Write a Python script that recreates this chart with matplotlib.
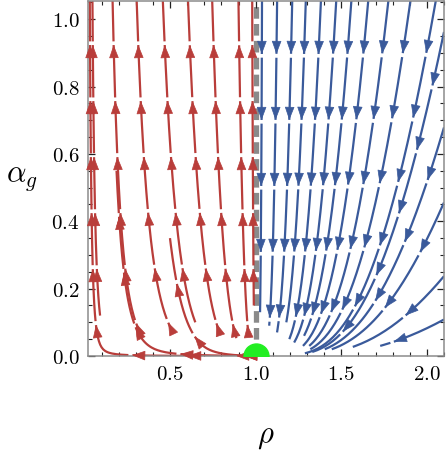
import numpy as np
import matplotlib
matplotlib.use("Agg")
import matplotlib.pyplot as plt
from matplotlib.ticker import MultipleLocator, FuncFormatter

plt.rcParams["mathtext.fontset"] = "cm"

# shape parameters of the flow
k_red = 0.33        # logit(rho) drift per ln(alpha_g), rho < 1
k_red_low = 0.4     # extra bending close to alpha_g = 0
alpha_bend = 0.01
k_blue = 0.17       # same for rho > 1

# streamlines: seed (rho, alpha_g) and the alpha_g range each one spans
red_rho = [0.047, 0.165, 0.306, 0.459, 0.606, 0.747, 0.90, 0.98, 0.95, 0.65, 0.90]
red_alpha = [1.04, 1.04, 1.04, 1.04, 1.04, 1.04, 1.04, 1.04, 1e-5, 0.003, 0.002]
red_lo = [0.12, 0.07, 0.068, 0.10, 0.08, 0.053, 0.057, 0.15, 0.0, 0.0, 0.0]
red_hi = [1.06, 1.06, 1.06, 1.06, 1.06, 1.06, 1.06, 1.06, 1.06, 0.55, 0.35]

blue_rho = [1.037, 1.125, 1.213, 1.292, 1.38, 1.469, 1.557, 1.655, 1.772, 1.9, 2.047,
            2.095, 2.095, 2.095, 2.095, 2.095]
blue_alpha = [1.04] * 11 + [0.95, 0.67, 0.45, 0.234, 0.107]
blue_lo = [0.13, 0.09, 0.07, 0.10, 0.05, 0.04, 0.06, 0.03, 0.03, 0.02, 0.008,
           0.012, 0.02, 0.02, 0.027, 0.03]

fixed_point = (1.0, 0.0)

red = "#b93d3a"
blue = "#3a5a9b"
xmin, xmax = 0.02, 2.1
ymin, ymax = 0.0, 1.053


def red_field(a_lo, a_hi):
    rho = np.linspace(0.0, 0.995, 240)
    alpha = np.linspace(a_lo, a_hi, 300)
    R, A = np.meshgrid(rho, alpha)
    k = k_red + k_red_low * np.exp(-A / alpha_bend)
    return rho, alpha, -R * (1 - R) * k, A


def blue_field(a_lo, a_hi):
    rho = np.linspace(1.001, 2.1, 240)
    alpha = np.linspace(a_lo, a_hi, 300)
    R, A = np.meshgrid(rho, alpha)
    return rho, alpha, -k_blue * R * (R - 1), -A


# streamlines are integrated by streamplot on a scratch axes, one seed at a time
scratch = plt.figure().add_subplot()


def trace(field, rho0, alpha0, lo, hi):
    x, y, u, v = field(lo, hi)
    sp = scratch.streamplot(x, y, u, v, start_points=[[rho0, alpha0]],
                            integration_direction="both",
                            broken_streamlines=False, density=3, maxlength=10)
    segs = sp.lines.get_segments()
    if not len(segs):
        return None
    return np.vstack([segs[0][:1]] + [s[1:] for s in segs])


fig = plt.figure(figsize=(4.46, 4.57), dpi=100)
ax = fig.add_axes([0.197, 0.221, 0.7985, 0.776])
ax.set_xlim(xmin, xmax)
ax.set_ylim(ymin, ymax)


def draw(path, color, spacing, first, gap=3.5):
    # arrows are counted back from the upper end of each line
    disp = ax.transData.transform(path)
    s = np.concatenate([[0], np.cumsum(np.hypot(*np.diff(disp, axis=0).T))])
    length = s[-1]
    top_is_end = path[-1, 1] > path[0, 1]
    d = np.arange(first, length - 6, spacing)
    tips = length - d if top_is_end else d
    ss = np.linspace(0, length, int(length) * 3 + 2)
    px = np.interp(ss, s, path[:, 0])
    py = np.interp(ss, s, path[:, 1])
    for t in tips:
        px[(ss > t) & (ss < t + gap)] = np.nan
    ax.plot(px, py, color=color, lw=1.6, solid_capstyle="butt", zorder=2)
    for t in tips:
        head = (np.interp(t, s, path[:, 0]), np.interp(t, s, path[:, 1]))
        tail = (np.interp(t - 8, s, path[:, 0]), np.interp(t - 8, s, path[:, 1]))
        ax.annotate("", xy=head, xytext=tail, zorder=3,
                    arrowprops=dict(arrowstyle="-|>,head_length=0.65,head_width=0.24",
                                    color=color, lw=0.5, shrinkA=0, shrinkB=0,
                                    mutation_scale=13))


ax.axvline(1.0, color="#8a8a8a", lw=3.8, dashes=(2.2, 1.0), zorder=1)

for r, a, lo, hi in zip(red_rho, red_alpha, red_lo, red_hi):
    p = trace(red_field, r, a, lo, hi)
    if p is not None:
        draw(p, red, 56, 46)
for r, a, lo in zip(blue_rho, blue_alpha, blue_lo):
    p = trace(blue_field, r, a, lo, 1.06)
    if p is not None:
        draw(p, blue, 66, 55)

ax.plot(*fixed_point, "o", ms=18, color="#22ee22", mec="#22ee22", zorder=4)

ax.xaxis.set_major_locator(MultipleLocator(0.5))
ax.xaxis.set_minor_locator(MultipleLocator(0.1))
ax.yaxis.set_major_locator(MultipleLocator(0.2))
ax.yaxis.set_minor_locator(MultipleLocator(0.05))
fmt = FuncFormatter(lambda val, pos: f"${val:.1f}$")
ax.xaxis.set_major_formatter(fmt)
ax.yaxis.set_major_formatter(fmt)
ax.tick_params(which="both", direction="in", top=True, right=True,
               labelsize=15, color="#222222")
ax.tick_params(which="major", length=5, width=0.9, pad=6)
ax.tick_params(which="minor", length=3, width=0.8)
for sp in ax.spines.values():
    sp.set_color("#8c8c8c")
    sp.set_linewidth(1.1)

ax.set_xlabel(r"$\rho$", fontsize=22, va="center")
ax.xaxis.set_label_coords(0.5, -0.228)
ax.set_ylabel(r"$\alpha_g$", fontsize=22, rotation=0, va="center", ha="center")
ax.yaxis.set_label_coords(-0.185, 0.5)

fig.savefig("out.png", dpi=100)
